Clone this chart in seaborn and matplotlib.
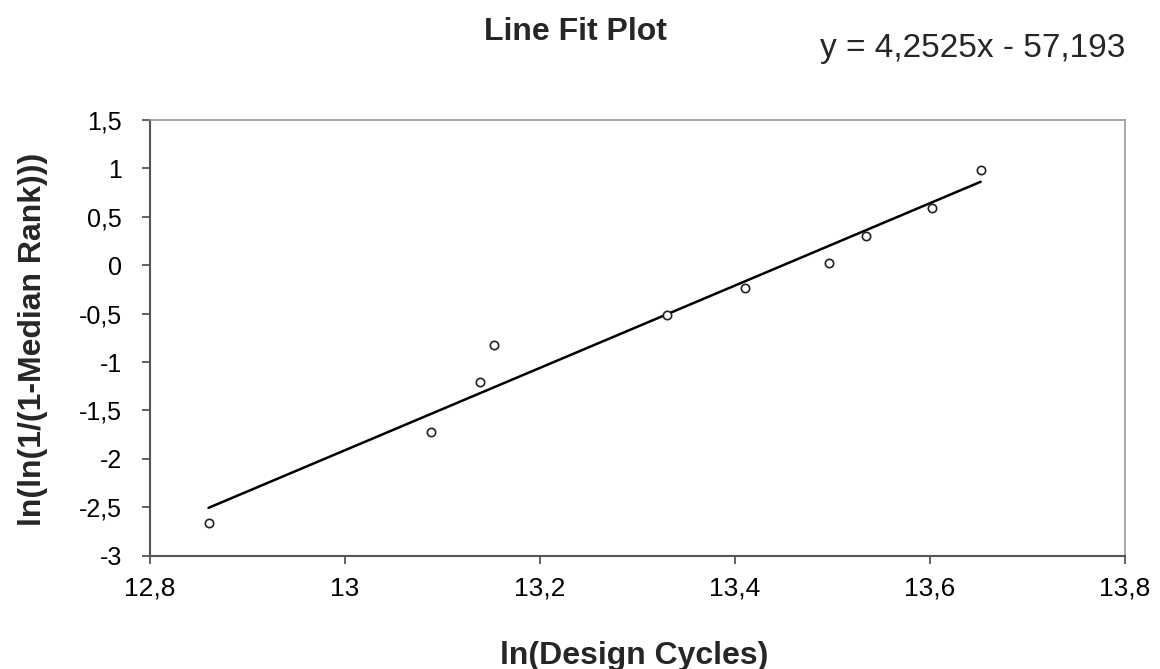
import matplotlib
matplotlib.use("Agg")
import matplotlib.pyplot as plt
import seaborn as sns
import pandas as pd
from matplotlib.ticker import FuncFormatter, MultipleLocator

# Data
ln_cycles = [12.860, 13.088, 13.138, 13.153, 13.330, 13.410, 13.496, 13.534, 13.602, 13.652]
ln_ln_rank = [-2.665, -1.725, -1.203, -0.826, -0.510, -0.234, 0.028, 0.301, 0.592, 0.988]
fit_slope = 4.2525
fit_intercept = -57.193
title = "Line Fit Plot"
equation = "y = 4,2525x - 57,193"
x_label = "ln(Design Cycles)"
y_label = "ln(ln(1/(1-Median Rank)))"

sns.set_style("white")
plt.rcParams["font.family"] = ["Liberation Sans", "DejaVu Sans"]

df = pd.DataFrame({"x": ln_cycles, "y": ln_ln_rank})
fit_x = [min(ln_cycles), max(ln_cycles)]
fit_df = pd.DataFrame({"x": fit_x, "y": [fit_slope * v + fit_intercept for v in fit_x]})

W, H = 1160, 669
fig = plt.figure(figsize=(W / 100, H / 100), dpi=100)
ax = fig.add_axes([150 / W, 1 - 555.7 / H, (1125 - 150) / W, (555.7 - 120) / H])

sns.lineplot(data=fit_df, x="x", y="y", ax=ax, color="black", linewidth=1.8)
sns.scatterplot(data=df, x="x", y="y", ax=ax, marker="o", s=36,
                facecolor="white", edgecolor="#222222", linewidth=1.2, zorder=3)

ax.set_xlim(12.8, 13.8)
ax.set_ylim(-3, 1.5)
ax.xaxis.set_major_locator(MultipleLocator(0.2))
ax.yaxis.set_major_locator(MultipleLocator(0.5))

def comma_fmt(v, pos):
    s = f"{v:.2f}".rstrip("0").rstrip(".")
    if s == "-0":
        s = "0"
    return s.replace(".", ",")

ax.xaxis.set_major_formatter(FuncFormatter(comma_fmt))
ax.yaxis.set_major_formatter(FuncFormatter(comma_fmt))

for side in ["left", "bottom"]:
    ax.spines[side].set_color("#555555")
    ax.spines[side].set_linewidth(1.5)
for side in ["top", "right"]:
    ax.spines[side].set_color("#999999")
    ax.spines[side].set_linewidth(1.2)

ax.tick_params(axis="both", which="major", direction="out", length=6, width=1.3,
               color="#555555", labelcolor="black", bottom=True, left=True)
ax.tick_params(axis="x", labelsize=19, pad=9)
ax.tick_params(axis="y", labelsize=18, pad=14)

ax.set_xlabel("")
ax.set_ylabel("")

fig.text(634 / W, 1 - 664 / H, x_label, fontsize=23, fontweight="bold",
         ha="center", va="baseline")
fig.text(33 / W, 1 - 339 / H, y_label, fontsize=23, fontweight="bold",
         ha="center", va="center", rotation=90)
fig.text(575 / W, 1 - 39.5 / H, title, fontsize=23, fontweight="bold",
         ha="center", va="baseline")
fig.text(820 / W, 1 - 56.5 / H, equation, fontsize=24,
         ha="left", va="baseline")

fig.savefig("out.png", dpi=100)
